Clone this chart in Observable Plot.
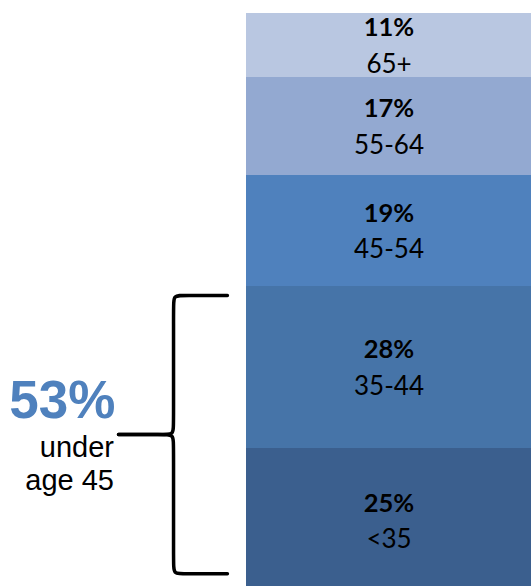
<!DOCTYPE html>
<html><head><meta charset="utf-8">
<script src="https://cdn.jsdelivr.net/npm/d3@7"></script>
<script src="https://cdn.jsdelivr.net/npm/@observablehq/plot@0.6"></script>
<style>html,body{margin:0;padding:0;overflow:hidden;background:#fff}</style>
</head><body><div id="chart"></div>
<script>
// Data
const ageGroups = ["<35", "35-44", "45-54", "55-64", "65+"];
const shares = [25, 28, 19, 17, 11];
const palette = ["#3B5F8E", "#4674A8", "#4F81BD", "#93A9D1", "#B9C7E1"];
const summaryValue = "53%";
const summaryLabel = "under\nage 45";

let acc = 0;
const rows = ageGroups.map((g, i) => {
  const y1 = acc; acc += shares[i];
  return {group: g, share: shares[i], y1, y2: acc, mid: (y1 + acc) / 2};
});
const under45 = rows.filter(r => r.group === "<35" || r.group === "35-44").reduce((s, r) => s + r.share, 0);

// Brace annotation (data units: x in bar widths, y in percent)
const lo = 3.4, hi = under45 - 1.6, midB = (lo + hi) / 2;
const xv = -0.256, xa = -0.067, xt = -0.449, rx = 0.035, ry = 1.7;
const brace = [];
function pts(part, list) { list.forEach(([x, y]) => brace.push({part, x, y})); }
pts("top", [[xa,hi],[xa,hi],[xa,hi],[xv+rx,hi],[xv,hi],[xv,hi-ry],[xv,midB+ry],[xv,midB],[xv-rx,midB],[xt,midB],[xt,midB],[xt,midB]]);
pts("bottom", [[xt,midB],[xt,midB],[xt,midB],[xv-rx,midB],[xv,midB],[xv,midB-ry],[xv,lo+ry],[xv,lo],[xv+rx,lo],[xa,lo],[xa,lo],[xa,lo]]);

const chart = Plot.plot({
  width: 531, height: 593,
  marginTop: 13, marginBottom: 0, marginLeft: 0, marginRight: 0,
  x: {domain: [-246/285, 1], axis: null},
  y: {domain: [0, 100], axis: null},
  color: {domain: ageGroups, range: palette},
  style: {background: "#fff"},
  marks: [
    Plot.rectY(rows, {x1: 0, x2: 1, y1: "y1", y2: "y2", fill: "group", shapeRendering: "crispEdges"}),
    Plot.text(rows, {x: 0.5, y: "mid", text: d => d.share + "%", dy: -17.5, fontSize: 25.5, fontWeight: "bold", fontFamily: "Lato", fill: "#000"}),
    Plot.text(rows, {x: 0.5, y: "mid", text: "group", dy: 19, fontSize: 26, fontFamily: "Lato", fill: "#000"}),
    Plot.line(brace, {x: "x", y: "y", z: "part", stroke: "#000", strokeWidth: 3.5, curve: "basis"}),
    Plot.text([summaryValue], {x: -0.46, y: 30.2, text: d => d, textAnchor: "end", lineAnchor: "bottom", fontSize: 53, fontWeight: "bold", fontFamily: "Liberation Sans", fill: "#4F81BD"}),
    Plot.text([summaryLabel], {x: -0.465, y: 17.76, text: d => d, textAnchor: "end", lineAnchor: "bottom", lineHeight: 1.16, fontSize: 29, fontFamily: "Liberation Sans", fill: "#000"})
  ]
});
document.getElementById("chart").appendChild(chart);
</script>
</body></html>
